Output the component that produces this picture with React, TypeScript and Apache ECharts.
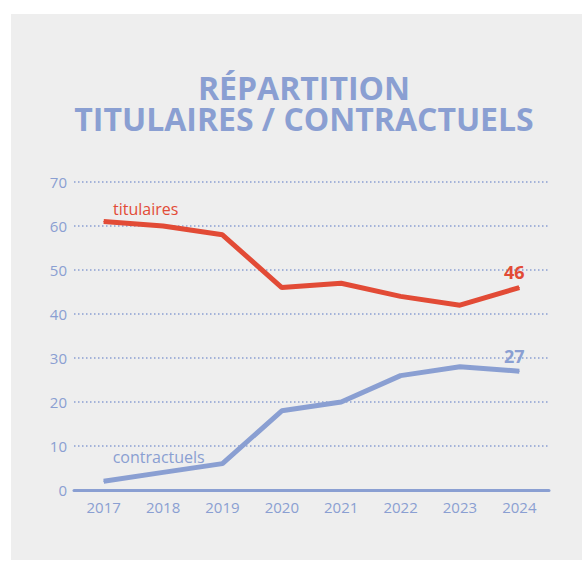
import React, { useEffect, useRef } from "react";
import * as echarts from "echarts";

const years = ["2017", "2018", "2019", "2020", "2021", "2022", "2023", "2024"];
const titulaires = [61, 60, 58, 46, 47, 44, 42, 46];
const contractuels = [2, 4, 6, 18, 20, 26, 28, 27];
const yTicks = { min: 0, max: 70, interval: 10 };
const titleLines = ["RÉPARTITION", "TITULAIRES / CONTRACTUELS"];

const RED = "#e24b36";
const BLUE = "#8a9fd2";
const FONT = "Open Sans";

export default function App() {
  const ref = useRef<HTMLDivElement>(null);
  useEffect(() => {
    document.body.style.margin = "0";
    const chart = echarts.init(ref.current!, undefined, { renderer: "svg" });
    const last = years.length - 1;
    const mkData = (arr: number[], color: string, firstName: string, firstOffset: number[], firstDist: number) =>
      arr.map((v, i) => {
        if (i === 0) {
          return {
            value: v,
            label: {
              show: true,
              formatter: firstName,
              position: "top",
              distance: firstDist,
              offset: firstOffset,
              color,
              fontSize: 16,
              fontFamily: FONT,
            },
          };
        }
        if (i === last) {
          return {
            value: v,
            label: {
              show: true,
              formatter: "{c}",
              position: "top",
              distance: 6,
              offset: [-5, 0],
              color,
              fontSize: 18,
              fontWeight: "bold",
              fontFamily: FONT,
            },
          };
        }
        return v;
      });

    const titleStyle = {
      color: BLUE,
      fontSize: 32,
      fontWeight: "bold",
      fontFamily: FONT,
      lineHeight: 30,
    };

    chart.setOption({
      animation: false,
      backgroundColor: "#ffffff",
      graphic: [
        {
          type: "rect",
          z: -10,
          shape: { x: 11, y: 14, width: 580, height: 546 },
          style: { fill: "#eeeeee" },
          silent: true,
        },
      ],
      title: [
        { text: titleLines[0], left: 304, top: 72, padding: 0, textAlign: "center", textStyle: titleStyle },
        { text: titleLines[1], left: 304, top: 103, padding: 0, textAlign: "center", textStyle: titleStyle },
      ],
      grid: { left: 74, right: 33, top: 182, bottom: 72 },
      xAxis: {
        type: "category",
        data: years,
        boundaryGap: true,
        axisLine: { show: true, lineStyle: { color: BLUE, width: 3 } },
        axisTick: { show: false },
        axisLabel: { color: BLUE, fontSize: 15, fontFamily: FONT, margin: 9 },
      },
      yAxis: {
        type: "value",
        min: yTicks.min,
        max: yTicks.max,
        interval: yTicks.interval,
        axisLine: { show: false },
        axisTick: { show: false },
        axisLabel: { color: BLUE, fontSize: 15, fontFamily: FONT, margin: 7 },
        splitLine: { lineStyle: { color: BLUE, width: 1.5, type: [1.5, 2.5] } },
      },
      series: [
        {
          type: "line",
          data: mkData(titulaires, RED, "titulaires", [42, 0], 4),
          symbol: "circle",
          symbolSize: 1,
          itemStyle: { color: RED },
          lineStyle: { color: RED, width: 5 },
          z: 3,
        },
        {
          type: "line",
          data: mkData(contractuels, BLUE, "contractuels", [55, 0], 16),
          symbol: "circle",
          symbolSize: 1,
          itemStyle: { color: BLUE },
          lineStyle: { color: BLUE, width: 5 },
          z: 3,
        },
      ],
    });
    return () => chart.dispose();
  }, []);
  return <div ref={ref} style={{ width: 582, height: 562 }} />;
}
